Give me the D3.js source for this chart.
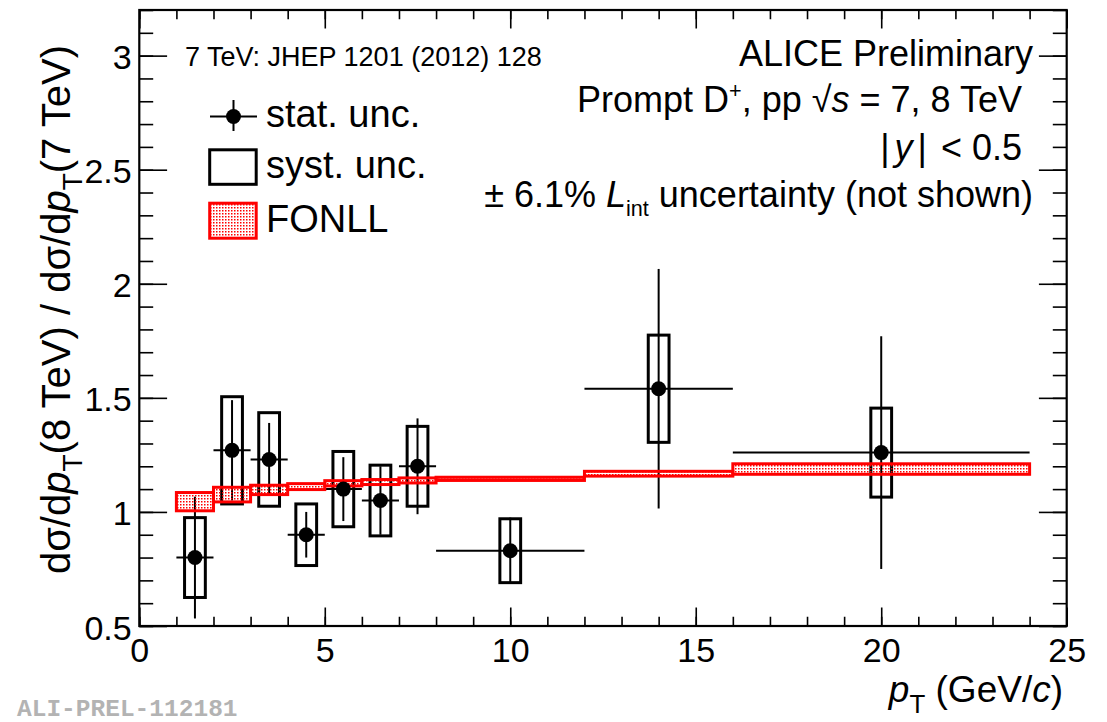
<!DOCTYPE html>
<html>
<head>
<meta charset="utf-8">
<script src="https://cdn.jsdelivr.net/npm/d3@7"></script>
<style>
  body { margin: 0; background: #fff; }
  svg { display: block; }
  text { font-family: "Liberation Sans", Arial, Helvetica, sans-serif; }
</style>
</head>
<body>
<svg id="chart" width="1107" height="722"></svg>
<script>
// D+ cross-section ratio 8 TeV / 7 TeV, per pT bin
const ptLow    = [1, 2, 3, 4, 5, 6, 7, 8, 12, 16];
const ptHigh   = [2, 3, 4, 5, 6, 7, 8, 12, 16, 24];
const ptCenter = [1.5, 2.5, 3.5, 4.5, 5.5, 6.5, 7.5, 10, 14, 20];
const ratio    = [0.80, 1.27, 1.23, 0.90, 1.10, 1.05, 1.20, 0.83, 1.54, 1.26];
const statUnc  = [0.267, 0.22, 0.16, 0.10, 0.14, 0.15, 0.21, 0.145, 0.525, 0.51];
const systUnc  = [0.175, 0.235, 0.205, 0.135, 0.165, 0.155, 0.175, 0.14, 0.235, 0.195];

// FONLL prediction band (lower / upper edge) per bin
const fonllLow  = [1.005, 1.044, 1.076, 1.098, 1.114, 1.120, 1.127, 1.138, 1.157, 1.165];
const fonllHigh = [1.085, 1.108, 1.117, 1.124, 1.137, 1.142, 1.149, 1.152, 1.178, 1.211];

const xMajorTicks = [0, 5, 10, 15, 20, 25];
const xMinorTicks = d3.range(0, 26);
const yMajorTicks = [0.5, 1, 1.5, 2, 2.5, 3];
const yMinorTicks = d3.range(5, 33).map(v => v / 10);

const svg = d3.select("#chart");
const L = 139.3, R = 1066.7, T = 10, B = 626;
const x = d3.scaleLinear().domain([0, 25]).range([L, R]);
const y = d3.scaleLinear().domain([0.5, 3.2]).range([B, T]);

const boxHalf = 0.28;   // half width of systematic boxes (GeV/c)

// stipple fill for the FONLL band
const defs = svg.append("defs");
const pat = defs.append("pattern").attr("id", "fonllFill")
  .attr("patternUnits", "userSpaceOnUse").attr("width", 3).attr("height", 3);
pat.append("rect").attr("width", 1.5).attr("height", 1.5).attr("fill", "#ff0000");

// ---- axes (ticks point inward, ROOT style) ----
function styleAxis(g) {
  g.select(".domain").remove();
  g.selectAll(".tick line").attr("stroke", "#000").attr("stroke-width", 1.6);
}
const tickLenX = 18.5, tickLenY = 27.8;

svg.append("g").attr("transform", `translate(0,${B})`)
  .call(d3.axisBottom(x).tickValues(xMinorTicks).tickSize(-tickLenX / 2).tickFormat(""))
  .call(styleAxis);
const xAxis = svg.append("g").attr("transform", `translate(0,${B})`)
  .call(d3.axisBottom(x).tickValues(xMajorTicks).tickSize(-tickLenX).tickFormat(d3.format("d")))
  .call(styleAxis);
xAxis.selectAll("text").attr("dy", null).attr("y", 36).attr("font-size", 34)
  .style("font-family", '"Liberation Sans", Arial, sans-serif').style("fill", "#000");

svg.append("g").attr("transform", `translate(0,${T})`)
  .call(d3.axisTop(x).tickValues(xMinorTicks).tickSize(-tickLenX / 2).tickFormat(""))
  .call(styleAxis);
svg.append("g").attr("transform", `translate(0,${T})`)
  .call(d3.axisTop(x).tickValues(xMajorTicks).tickSize(-tickLenX).tickFormat(""))
  .call(styleAxis);

svg.append("g").attr("transform", `translate(${L},0)`)
  .call(d3.axisLeft(y).tickValues(yMinorTicks).tickSize(-tickLenY / 2).tickFormat(""))
  .call(styleAxis);
const yAxis = svg.append("g").attr("transform", `translate(${L},0)`)
  .call(d3.axisLeft(y).tickValues(yMajorTicks).tickSize(-tickLenY).tickFormat(d => String(d)))
  .call(styleAxis);
yAxis.selectAll("text").attr("dy", null).attr("x", -7.6).attr("y", 13).attr("font-size", 34)
  .style("font-family", '"Liberation Sans", Arial, sans-serif').style("fill", "#000");

svg.append("g").attr("transform", `translate(${R},0)`)
  .call(d3.axisRight(y).tickValues(yMinorTicks).tickSize(-tickLenY / 2).tickFormat(""))
  .call(styleAxis);
svg.append("g").attr("transform", `translate(${R},0)`)
  .call(d3.axisRight(y).tickValues(yMajorTicks).tickSize(-tickLenY).tickFormat(""))
  .call(styleAxis);

// frame
svg.append("rect").attr("x", L).attr("y", T).attr("width", R - L).attr("height", B - T)
  .attr("fill", "none").attr("stroke", "#000").attr("stroke-width", 2.2);

// ---- data ----
const idx = d3.range(ptCenter.length);
const plot = svg.append("g");

// systematic boxes
plot.selectAll("rect.syst").data(idx).join("rect").attr("class", "syst")
  .attr("x", i => x(ptCenter[i] - boxHalf))
  .attr("width", i => x(ptCenter[i] + boxHalf) - x(ptCenter[i] - boxHalf))
  .attr("y", i => y(ratio[i] + systUnc[i]))
  .attr("height", i => y(ratio[i] - systUnc[i]) - y(ratio[i] + systUnc[i]))
  .attr("fill", "none").attr("stroke", "#000").attr("stroke-width", 3);

// statistical error bars
plot.selectAll("line.statv").data(idx).join("line").attr("class", "statv")
  .attr("x1", i => x(ptCenter[i])).attr("x2", i => x(ptCenter[i]))
  .attr("y1", i => y(ratio[i] + statUnc[i])).attr("y2", i => y(ratio[i] - statUnc[i]))
  .attr("stroke", "#000").attr("stroke-width", 2);
plot.selectAll("line.stath").data(idx).join("line").attr("class", "stath")
  .attr("x1", i => x(ptLow[i])).attr("x2", i => x(ptHigh[i]))
  .attr("y1", i => y(ratio[i])).attr("y2", i => y(ratio[i]))
  .attr("stroke", "#000").attr("stroke-width", 2);

// FONLL band
plot.selectAll("rect.fonll").data(idx).join("rect").attr("class", "fonll")
  .attr("x", i => x(ptLow[i]))
  .attr("width", i => x(ptHigh[i]) - x(ptLow[i]))
  .attr("y", i => y(fonllHigh[i]))
  .attr("height", i => y(fonllLow[i]) - y(fonllHigh[i]))
  .attr("fill", "url(#fonllFill)").attr("stroke", "#ff0000").attr("stroke-width", 3);

// markers
plot.selectAll("circle.pt").data(idx).join("circle").attr("class", "pt")
  .attr("cx", i => x(ptCenter[i])).attr("cy", i => y(ratio[i])).attr("r", 7.5)
  .attr("fill", "#000");

// ---- text helper with italic / sub / superscript runs ----
function rich(parent, parts, size, anchor) {
  const t = parent.append("text").attr("font-size", size)
    .attr("text-anchor", anchor || "start").style("fill", "#000");
  let shift = 0;
  parts.forEach(p => {
    const s = t.append("tspan").text(p.t);
    let target = 0;
    if (p.sub) { s.attr("font-size", size * (p.scale || 0.7)); target = size * (p.off || 0.3); }
    if (p.sup) { s.attr("font-size", size * (p.scale || 0.6)); target = -size * (p.off || 0.4); }
    if (p.i) s.attr("font-style", "italic");
    if (p.dx) s.attr("dx", p.dx);
    if (target !== shift) { s.attr("dy", target - shift); shift = target; }
  });
  return t;
}

// axis titles
const xt = svg.append("g").attr("transform", "translate(1063,702)");
rich(xt, [{t: "p", i: true}, {t: "T", sub: true}, {t: " (GeV/"}, {t: "c", i: true}, {t: ")"}], 37, "end");

const yt = svg.append("g").attr("transform", "translate(70,45) rotate(-90)");
rich(yt, [
  {t: "dσ/d"}, {t: "p", i: true}, {t: "T", sub: true}, {t: "(8 TeV) / dσ/d"},
  {t: "p", i: true}, {t: "T", sub: true}, {t: "(7 TeV)"}
], 40, "end");

// reference note
rich(svg.append("g").attr("transform", "translate(185,66)"),
  [{t: "7 TeV: JHEP 1201 (2012) 128"}], 27, "start");

// info block
rich(svg.append("g").attr("transform", "translate(1033,66)"),
  [{t: "ALICE Preliminary"}], 36, "end");
rich(svg.append("g").attr("transform", "translate(1022,112)"),
  [{t: "Prompt D"}, {t: "+", sup: true}, {t: ", pp √"}, {t: "s", i: true}, {t: " = 7, 8 TeV"}], 36, "end");
rich(svg.append("g").attr("transform", "translate(1022,160)"),
  [{t: "|"}, {t: "y", i: true, dx: 5}, {t: "|", dx: 5}, {t: "  <  0.5", dx: 4}], 36, "end");
rich(svg.append("g").attr("transform", "translate(1033,207)"),
  [{t: "± 6.1% "}, {t: "L", i: true}, {t: "int", sub: true, scale: 0.6, off: 0.25}, {t: " uncertainty (not shown)"}], 36, "end");

// legend
const lg = svg.append("g");
lg.append("line").attr("x1", 210).attr("x2", 257).attr("y1", 116.5).attr("y2", 116.5)
  .attr("stroke", "#000").attr("stroke-width", 2);
lg.append("line").attr("x1", 233.5).attr("x2", 233.5).attr("y1", 100).attr("y2", 131)
  .attr("stroke", "#000").attr("stroke-width", 2);
lg.append("circle").attr("cx", 233.5).attr("cy", 116.5).attr("r", 7.5).attr("fill", "#000");
lg.append("rect").attr("x", 209.7).attr("y", 149.8).attr("width", 46.5).attr("height", 34.5)
  .attr("fill", "none").attr("stroke", "#000").attr("stroke-width", 3);
lg.append("rect").attr("x", 209.7).attr("y", 203.2).attr("width", 46.5).attr("height", 35)
  .attr("fill", "url(#fonllFill)").attr("stroke", "#ff0000").attr("stroke-width", 3);
rich(lg.append("g").attr("transform", "translate(266,127)"), [{t: "stat. unc."}], 38);
rich(lg.append("g").attr("transform", "translate(266,178)"), [{t: "syst. unc."}], 38);
rich(lg.append("g").attr("transform", "translate(266,232)"), [{t: "FONLL"}], 38);

// figure id
svg.append("text").attr("x", 17).attr("y", 715.5)
  .attr("font-size", 24.5).attr("font-weight", "bold")
  .style("fill", "#b3b3b3")
  .style("font-family", '"Liberation Mono", "Courier New", monospace')
  .text("ALI-PREL-112181");
</script>
</body>
</html>
